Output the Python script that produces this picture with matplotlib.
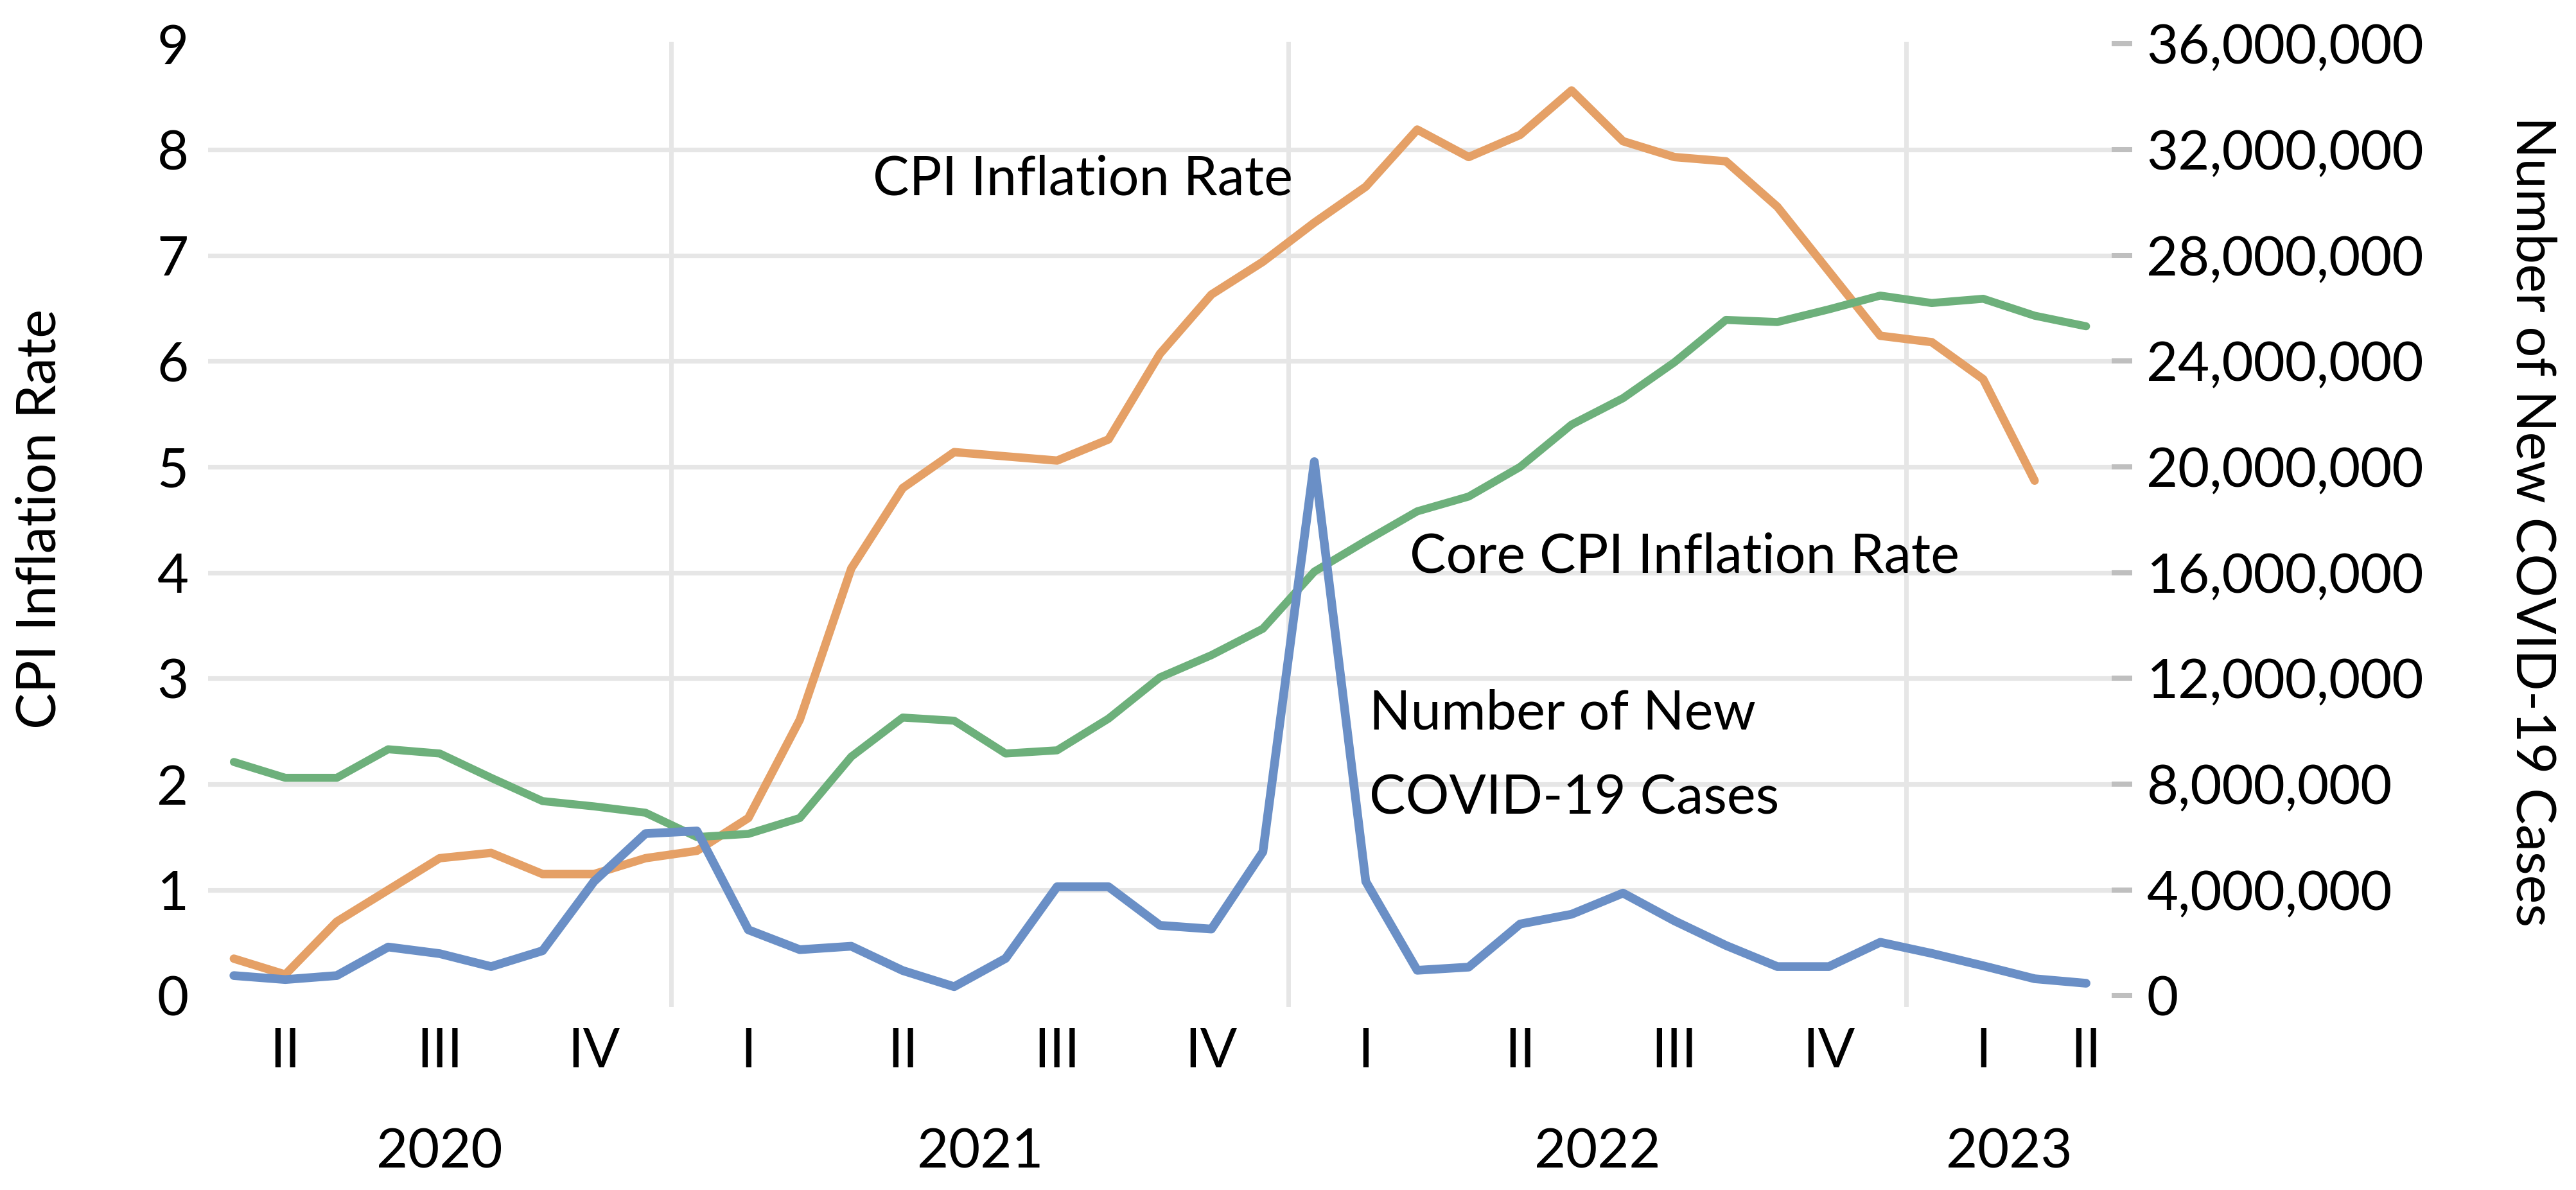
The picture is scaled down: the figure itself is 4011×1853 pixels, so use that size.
# CPI vs core CPI inflation and new COVID-19 cases, Apr 2020 - Apr 2023
import matplotlib
matplotlib.use("Agg")
import matplotlib.pyplot as plt
import matplotlib.ticker as mticker
import pandas as pd

plt.rcParams["font.family"] = ["Lato", "DejaVu Sans"]

# monthly categories
months = pd.period_range("2020-04", "2023-04", freq="M")

# CPI inflation rate (%) - ends March 2023
cpi = [0.35, 0.2, 0.7, 1.0, 1.3, 1.35, 1.15, 1.15, 1.3, 1.37,
       1.68, 2.61, 4.04, 4.8, 5.14, 5.1, 5.06, 5.26, 6.07, 6.63,
       6.94, 7.31, 7.65, 8.19, 7.93, 8.14, 8.56, 8.08, 7.93, 7.89,
       7.46, 6.85, 6.24, 6.18, 5.83, 4.87]

# core CPI inflation rate (%)
core_cpi = [2.21, 2.06, 2.06, 2.33, 2.29, 2.06, 1.84, 1.79, 1.73, 1.5,
            1.53, 1.68, 2.26, 2.63, 2.6, 2.29, 2.32, 2.62, 3.01, 3.22,
            3.47, 4.01, 4.3, 4.58, 4.72, 5.0, 5.4, 5.65, 5.99, 6.39,
            6.37, 6.49, 6.62, 6.55, 6.59, 6.43, 6.33]

# number of new COVID-19 cases per month
new_cases = [760000, 610000, 760000, 1840000, 1590000, 1100000, 1700000, 4320000,
             6130000, 6230000, 2490000, 1740000, 1870000, 950000, 340000, 1410000,
             4120000, 4120000, 2660000, 2520000, 5440000, 20200000, 4320000, 960000,
             1080000, 2710000, 3080000, 3880000, 2830000, 1900000, 1100000, 1100000,
             2020000, 1600000, 1130000, 640000, 470000]

roman = {1: "I", 2: "II", 3: "III", 4: "IV"}

FS = 61
grid_col = "#E6E6E6"

fig = plt.figure(figsize=(40.11, 18.53), dpi=100)
ax = fig.add_axes([0.0808, 0.1633, 0.739, 0.7998])
ax2 = ax.twinx()

x = list(range(len(months)))

# gridlines (1..8 only)
for v in range(1, 9):
    ax.axhline(v, color=grid_col, lw=5.2, zorder=0)

# year separators
years = list(months.year)
for i in range(1, len(years)):
    if years[i] != years[i - 1]:
        ax.plot([i - 0.5, i - 0.5], [1, -0.009], transform=ax.get_xaxis_transform(),
                color=grid_col, lw=5, clip_on=False, zorder=0)

# series
ax.plot(x[:len(cpi)], cpi, color="#E5A066", lw=9.4,
        solid_capstyle="round", solid_joinstyle="round", zorder=3)
ax.plot(x, core_cpi, color="#6DB07B", lw=9.0,
        solid_capstyle="round", solid_joinstyle="round", zorder=3)
ax2.plot(x, new_cases, color="#6A8FC6", lw=9.8,
         solid_capstyle="round", solid_joinstyle="round", zorder=3)

ax.set_xlim(-0.5, len(months) - 0.5)
ax.set_ylim(0, 9)
ax.set_yticks(range(0, 10))
ax.set_xticks([])
ax.tick_params(axis="y", length=0, pad=22, labelsize=FS)

ax2.set_ylim(0, 36000000)
ax2.set_yticks(range(0, 36000001, 4000000))
ax2.yaxis.set_major_formatter(mticker.FuncFormatter(lambda v, p: f"{int(v):,}"))
ax2.tick_params(axis="y", length=23, width=5.8, color="#BFBFBF", pad=16, labelsize=FS)

for a in (ax, ax2):
    for s in a.spines.values():
        s.set_visible(False)

# multi-level category labels: quarters and years
trans = ax.get_xaxis_transform()
quarters = {}
for i, p in enumerate(months):
    quarters.setdefault((p.year, p.quarter), []).append(i)
for (yr, q), idx in quarters.items():
    ax.text(sum(idx) / len(idx), -0.0752, roman[q], transform=trans,
            ha="center", va="baseline", fontsize=FS)
year_groups = {}
for i, p in enumerate(months):
    year_groups.setdefault(p.year, []).append(i)
for yr, idx in year_groups.items():
    ax.text(sum(idx) / len(idx), -0.181, str(yr), transform=trans,
            ha="center", va="baseline", fontsize=FS)

# series labels
ax.text(16.5, 7.57, "CPI Inflation Rate", ha="center", va="baseline", fontsize=FS)
ax.text(28.2, 4.0, "Core CPI Inflation Rate", ha="center", va="baseline", fontsize=FS)
ax.text(22.07, 2.52, "Number of New", ha="left", va="baseline", fontsize=FS)
ax.text(22.07, 1.715, "COVID-19 Cases", ha="left", va="baseline", fontsize=FS)

# axis titles
fig.text(63 / 4011, 1 - 808 / 1853, "CPI Inflation Rate", rotation=90,
         ha="center", va="center", fontsize=FS)
fig.text(3942 / 4011, 1 - 812 / 1853, "Number of New COVID-19 Cases", rotation=270,
         ha="center", va="center", fontsize=FS)

fig.savefig("out.png", dpi=100)
